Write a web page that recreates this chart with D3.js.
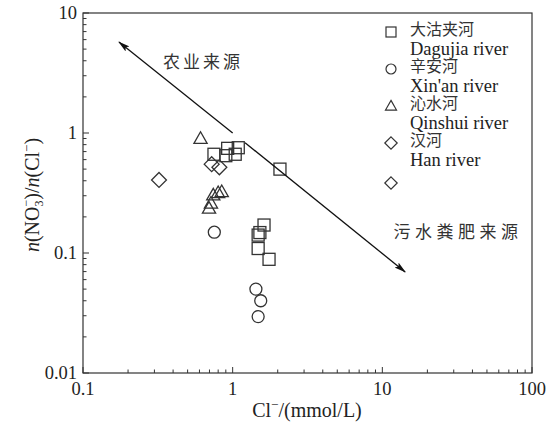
<!DOCTYPE html>
<html><head><meta charset="utf-8">
<script src="https://cdn.jsdelivr.net/npm/d3@7"></script>
<style>
body{margin:0;background:#fff;}
</style></head><body>
<svg id="c" width="548" height="429"></svg>
<script>
// ---- data ----
const daguX = [0.75, 0.90, 0.926, 1.09, 1.04, 2.07, 1.62, 1.52, 1.48, 1.48, 1.75];
const daguY = [0.665, 0.647, 0.745, 0.754, 0.665, 0.50, 0.171, 0.148, 0.141, 0.109, 0.0886];
const xinanX = [0.754, 1.43, 1.54, 1.48];
const xinanY = [0.149, 0.050, 0.040, 0.0295];
const qinX = [0.61, 0.845, 0.80, 0.742, 0.716, 0.695];
const qinY = [0.90, 0.324, 0.318, 0.304, 0.26, 0.236];
const hanX = [0.724, 0.815, 0.322];
const hanY = [0.55, 0.518, 0.406];
const xTicks = [0.1, 1, 10, 100];
const xTickLabels = ["0.1", "1", "10", "100"];
const yTicks = [0.01, 0.1, 1, 10];
const yTickLabels = ["0.01", "0.1", "1", "10"];
const agriArrow = {from: [1.0, 1.0], to: [0.174, 5.73], label: "农业来源", labelPos: [0.634, 3.9], ls: 3};
const sewageArrow = {from: [1.21, 0.83], to: [14.2, 0.0695], label: "污水粪肥来源", labelPos: [32, 0.15], ls: 4.5};
const legendZh = ["大沽夹河", "辛安河", "沁水河", "汉河"];
const legendEn = ["Dagujia river", "Xin'an river", "Qinshui river", "Han river"];
const shapes = ["square", "circle", "triangle", "diamond"];

const SERIF = "'Times New Roman','Liberation Serif','DejaVu Serif',serif";
const CJK = "'Noto Sans CJK SC','Noto Sans CJK JP',sans-serif";

const svg = d3.select("#c");
const L = 83, R = 532, T = 13, B = 373;
const x = d3.scaleLog().domain([0.1, 100]).range([L, R]);
const y = d3.scaleLog().domain([0.01, 10]).range([B, T]);
const stroke = "#333";

// frame
svg.append("rect").attr("x", L).attr("y", T).attr("width", R - L).attr("height", B - T)
  .attr("fill", "none").attr("stroke", stroke).attr("stroke-width", 1.2);

// ticks (inward)
function minorVals(dom){
  const out=[]; for(let e=Math.log10(dom[0]); e<Math.log10(dom[1]); e++){
    for(let k=2;k<=9;k++) out.push(k*Math.pow(10,e)); }
  return out;
}
const gx = svg.append("g");
xTicks.forEach(v=>gx.append("line").attr("x1",x(v)).attr("x2",x(v)).attr("y1",B).attr("y2",B-6).attr("stroke",stroke));
minorVals([0.1,100]).forEach(v=>gx.append("line").attr("x1",x(v)).attr("x2",x(v)).attr("y1",B).attr("y2",B-3.5).attr("stroke",stroke));
const gy = svg.append("g");
yTicks.forEach(v=>gy.append("line").attr("y1",y(v)).attr("y2",y(v)).attr("x1",L).attr("x2",L+6).attr("stroke",stroke));
minorVals([0.01,10]).forEach(v=>gy.append("line").attr("y1",y(v)).attr("y2",y(v)).attr("x1",L).attr("x2",L+3.5).attr("stroke",stroke));

// tick labels
xTicks.forEach((v,i)=>svg.append("text").attr("font-family",SERIF).attr("fill","#222")
  .attr("x",x(v)).attr("y",B+22).attr("text-anchor","middle").attr("font-size",18.5).text(xTickLabels[i]));
yTicks.forEach((v,i)=>svg.append("text").attr("font-family",SERIF).attr("fill","#222")
  .attr("x",L-6).attr("y",y(v)+6).attr("text-anchor","end").attr("font-size",18.5).text(yTickLabels[i]));

// axis titles
const xt = svg.append("text").attr("font-family",SERIF).attr("fill","#222")
  .attr("x",307).attr("y",417).attr("text-anchor","middle").attr("font-size",20);
xt.append("tspan").text("Cl");
xt.append("tspan").attr("font-size",13).attr("dy",-8).text("−");
xt.append("tspan").attr("dy",8).text("/(mmol/L)");

const yt = svg.append("text").attr("font-family",SERIF).attr("fill","#222")
  .attr("transform","translate(39,195) rotate(-90)").attr("text-anchor","middle").attr("font-size",20);
yt.append("tspan").attr("font-style","italic").text("n");
yt.append("tspan").text("(NO");
yt.append("tspan").attr("font-size",12).attr("dy",4).text("3");
yt.append("tspan").attr("font-size",12).attr("dx",-6).attr("dy",-13).text("−");
yt.append("tspan").attr("dy",9).text(")/");
yt.append("tspan").attr("font-style","italic").text("n");
yt.append("tspan").text("(Cl");
yt.append("tspan").attr("font-size",13).attr("dy",-8).text("−");
yt.append("tspan").attr("dy",8).text(")");

// markers
function drawShape(g, shape, cx, cy, s){
  if(shape==="square") g.append("rect").attr("x",cx-s/2).attr("y",cy-s/2).attr("width",s).attr("height",s);
  else if(shape==="circle") g.append("circle").attr("cx",cx).attr("cy",cy).attr("r",s/2);
  else if(shape==="triangle"){ const h=s*0.9; g.append("path").attr("d",`M${cx},${cy-h*0.62}L${cx+s*0.55},${cy+h*0.45}L${cx-s*0.55},${cy+h*0.45}Z`); }
  else if(shape==="diamond"){ const d=s*0.62; g.append("path").attr("d",`M${cx},${cy-d}L${cx+d},${cy}L${cx},${cy+d}L${cx-d},${cy}Z`); }
}
const series = [[daguX,daguY],[xinanX,xinanY],[qinX,qinY],[hanX,hanY]];
const pts = svg.append("g").attr("fill","none").attr("stroke",stroke).attr("stroke-width",1.3);
series.forEach((sr,si)=>{
  sr[0].forEach((xv,i)=>drawShape(pts, shapes[si], x(xv), y(sr[1][i]), 12));
});

// arrows
const defs = svg.append("defs");
defs.append("marker").attr("id","ah").attr("viewBox","0 0 12 8").attr("refX",11).attr("refY",4)
  .attr("markerWidth",12).attr("markerHeight",8).attr("markerUnits","userSpaceOnUse").attr("orient","auto")
  .append("path").attr("d","M0,0.8L12,4L0,7.2L2.5,4Z").attr("fill","#111");
[agriArrow, sewageArrow].forEach(a=>{
  svg.append("line").attr("x1",x(a.from[0])).attr("y1",y(a.from[1])).attr("x2",x(a.to[0])).attr("y2",y(a.to[1]))
    .attr("stroke","#111").attr("stroke-width",1.3).attr("marker-end","url(#ah)");
  svg.append("text").attr("font-family",CJK).attr("fill","#333").attr("x",x(a.labelPos[0])).attr("y",y(a.labelPos[1])+6)
    .attr("text-anchor","middle").attr("font-size",17).attr("letter-spacing",a.ls).text(a.label);
});

// legend
const lg = svg.append("g");
const lm = lg.append("g").attr("fill","none").attr("stroke",stroke).attr("stroke-width",1.2);
shapes.forEach((sh,i)=>{
  const cy = 32 + i*37;
  drawShape(lm, sh, 391, cy, 10);
  lg.append("text").attr("font-family",CJK).attr("fill","#333").attr("x",410).attr("y",cy+3).attr("font-size",16).text(legendZh[i]);
  lg.append("text").attr("font-family",SERIF).attr("fill","#222").attr("x",410).attr("y",cy+23).attr("font-size",18.5).text(legendEn[i]);
});
drawShape(lm, "diamond", 391, 183, 10);
</script></body></html>
